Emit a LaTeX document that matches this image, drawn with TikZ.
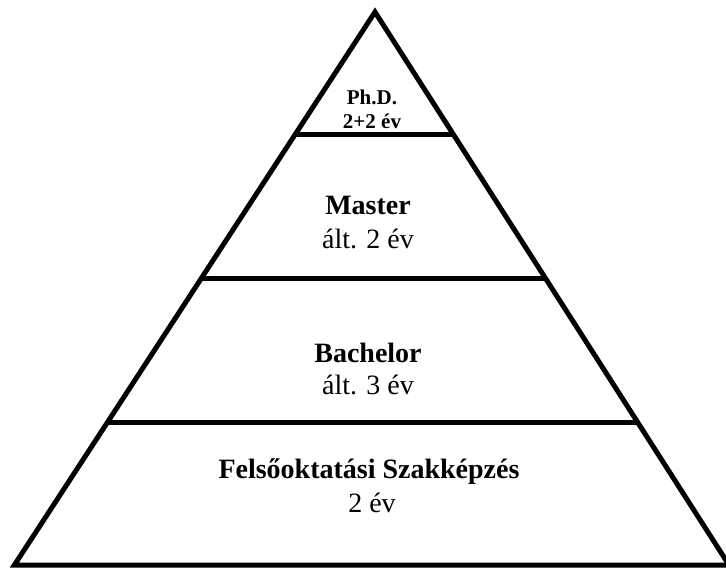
\documentclass[tikz,border=0pt]{standalone}
\usepackage{fontspec}
\setmainfont{Liberation Serif}
\usetikzlibrary{calc}
\tikzset{
  edge/.style={line width=5pt, line join=miter},
  big/.style={font=\fontsize{28}{32}\selectfont, inner sep=0pt, anchor=center},
  bigb/.style={big, font=\fontsize{28}{32}\selectfont\bfseries},
  small/.style={font=\fontsize{21}{24}\selectfont\bfseries, inner sep=0pt, anchor=center}
}
\begin{document}
\begin{tikzpicture}[x=1pt, y=-1pt]
\useasboundingbox (0,0) rectangle (726,569);
\fill[white] (0,0) rectangle (726,569);
\coordinate (A) at (375,12);
\coordinate (L) at (14.4,565);
\coordinate (R) at (729,565);
\coordinate (l1) at ($(A)!0.2224!(L)$);
\coordinate (r1) at ($(A)!0.2224!(R)$);
\coordinate (l2) at ($(A)!0.4828!(L)$);
\coordinate (r2) at ($(A)!0.4828!(R)$);
\coordinate (l3) at ($(A)!0.7432!(L)$);
\coordinate (r3) at ($(A)!0.7432!(R)$);
\draw[edge] (A) -- (L) -- (R) -- cycle;
\draw[edge] (l1) -- (r1);
\draw[edge] (l2) -- (r2);
\draw[edge] (l3) -- (r3);
\node[small] (p1) at (372,97) {Ph.D.};
\node[small] (p2) at (372,121) {2+2 év};
\node[bigb] (m1) at (368,205) {Master};
\node[big] (m2) at (368,239) {ált. 2 év};
\node[bigb] (b1) at (368,353) {Bachelor};
\node[big] (b2) at (368,385) {ált. 3 év};
\node[bigb] (f1) at (369,472) {Felsőoktatási Szakképzés};
\node[big] (f2) at (372,503) {2 év};
\end{tikzpicture}
\end{document}
